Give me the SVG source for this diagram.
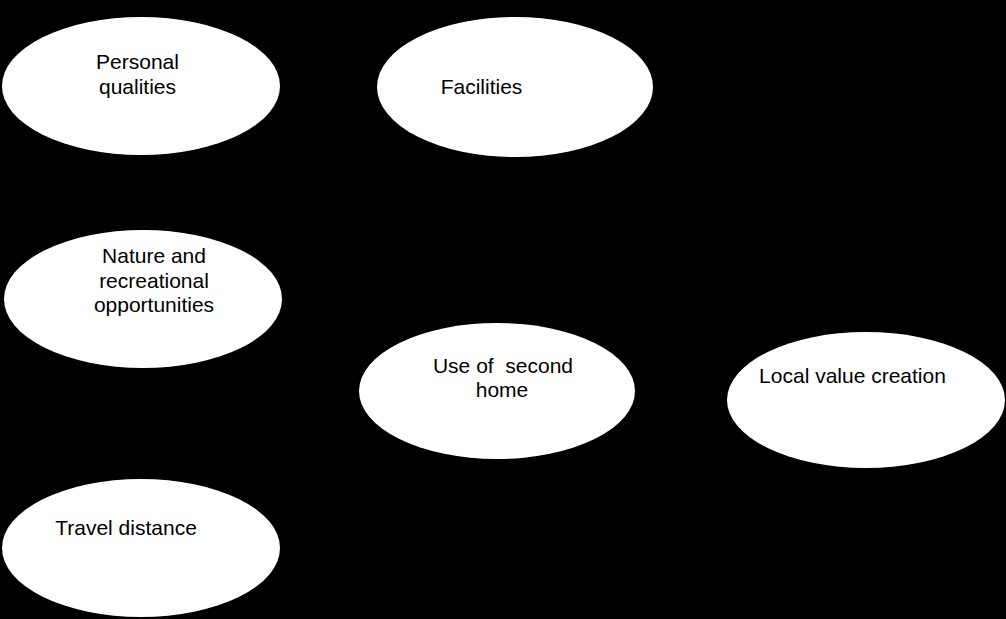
<svg xmlns="http://www.w3.org/2000/svg" width="1006" height="619" viewBox="0 0 1006 619">
<style>
.bg{fill:#000}
.node ellipse{fill:#fff;stroke:none}
.node text{font-family:"Liberation Sans",Arial,sans-serif;font-size:21px;fill:#000;text-anchor:middle;white-space:pre}
</style>
<rect class="bg" x="0" y="0" width="1006" height="619"/>
<g id="connectors"></g>
<g id="personal-qualities" class="node">
<ellipse cx="141" cy="86" rx="139" ry="69"/>
<text x="137.5" y="69">Personal</text>
<text x="137.5" y="94">qualities</text>
</g>
<g id="facilities" class="node">
<ellipse cx="515" cy="87" rx="138" ry="70"/>
<text x="481.5" y="94">Facilities</text>
</g>
<g id="nature" class="node">
<ellipse cx="143" cy="299" rx="139" ry="69"/>
<text x="154" y="263">Nature and</text>
<text x="154" y="288">recreational</text>
<text x="154" y="312">opportunities</text>
</g>
<g id="use-of-second-home" class="node">
<ellipse cx="497" cy="391" rx="138" ry="68"/>
<text x="503" y="373">Use of  second</text>
<text x="502" y="397">home</text>
</g>
<g id="local-value-creation" class="node">
<ellipse cx="866" cy="400" rx="139" ry="68"/>
<text x="852.5" y="383">Local value creation</text>
</g>
<g id="travel-distance" class="node">
<ellipse cx="141" cy="548" rx="139" ry="69"/>
<text x="126" y="535">Travel distance</text>
</g>
</svg>
